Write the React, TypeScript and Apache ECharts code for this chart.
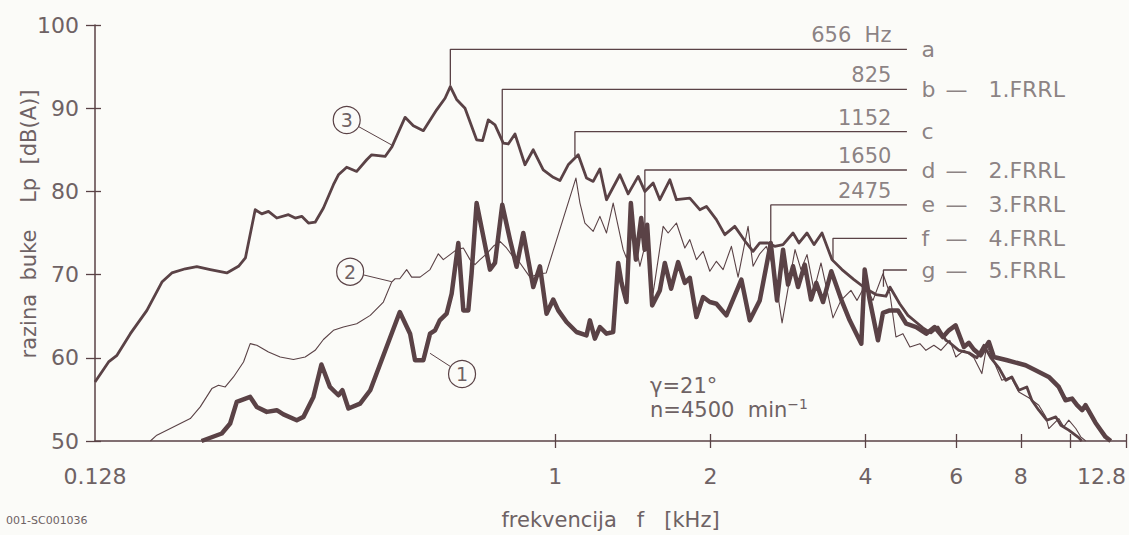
import React, { useEffect, useRef } from "react";
import * as echarts from "echarts";

// ---- data: [frequency kHz, level dB(A)] ----
const curve1: [number, number][] = [
  [0.206, 50.0], [0.2255, 50.9], [0.2341, 52.1], [0.2411, 54.7], [0.256, 55.3], [0.2637, 54.1],
  [0.2757, 53.5], [0.2883, 53.7], [0.297, 53.2], [0.3152, 52.5], [0.3248, 52.9], [0.3396, 55.3],
  [0.3519, 59.2], [0.3655, 56.5], [0.3797, 55.5], [0.3865, 56.1], [0.397, 53.9], [0.4183, 54.5],
  [0.4377, 56.1], [0.4994, 65.5], [0.5229, 62.9], [0.5347, 59.7], [0.5548, 59.7], [0.5717, 62.9],
  [0.5846, 63.3], [0.597, 64.5], [0.6156, 65.3], [0.6296, 67.7], [0.6486, 73.8], [0.6633, 65.7],
  [0.6782, 65.7], [0.6883, 70.2], [0.7038, 78.6], [0.7252, 74.6], [0.7471, 70.6], [0.7641, 71.4],
  [0.7893, 78.4], [0.817, 74.2], [0.8414, 70.95], [0.8669, 75.0], [0.9065, 68.5], [0.934, 71.0],
  [0.9619, 65.3], [0.9911, 67.0], [1.0135, 65.7], [1.0517, 64.3], [1.0997, 63.1], [1.1499, 62.7],
  [1.1675, 64.5], [1.1938, 62.3], [1.2207, 63.7], [1.2573, 62.9], [1.2954, 63.1], [1.3246, 71.4],
  [1.3445, 69.0], [1.3747, 66.7], [1.4018, 78.6], [1.4336, 71.8], [1.4681, 76.8], [1.491, 73.0],
  [1.5077, 76.0], [1.5418, 66.3], [1.5956, 68.1], [1.6316, 71.4], [1.678, 68.3], [1.7313, 71.5],
  [1.784, 69.0], [1.8242, 69.6], [1.8788, 64.9], [1.9358, 67.3], [1.9947, 66.7], [2.0541, 66.5],
  [2.1479, 65.1], [2.2968, 69.4], [2.3841, 64.5], [2.4932, 66.9], [2.6188, 73.8], [2.6933, 66.9],
  [2.7663, 73.0], [2.8289, 68.8], [2.8926, 71.0], [2.9579, 68.5], [3.0477, 71.2], [3.1349, 67.0],
  [3.2096, 69.0], [3.3071, 66.7], [3.4317, 70.4], [3.588, 67.0], [3.7254, 64.5], [3.9244, 61.7],
  [3.9835, 70.6], [4.0728, 67.0], [4.2272, 62.1], [4.3224, 65.4], [4.4549, 65.7], [4.6218, 65.7],
  [4.7962, 64.1], [5.0152, 63.7], [5.2441, 62.9], [5.4442, 63.7], [5.6495, 62.5], [5.8026, 63.3],
  [5.9791, 63.9], [6.2047, 61.3], [6.3444, 61.8], [6.4879, 61.0], [6.6848, 60.3], [6.9369, 61.9],
  [7.0936, 60.1], [7.5276, 59.7], [8.1718, 59.1], [8.5446, 58.5], [9.0671, 57.7], [9.4804, 56.5],
  [9.7688, 54.9], [10.0601, 55.1], [10.2878, 54.3], [10.5228, 53.7], [10.6808, 54.3], [11.1683, 52.2],
  [11.678, 50.5], [11.9583, 50.0],
];

const curve2: [number, number][] = [
  [0.1639, 50.0], [0.1687, 50.7], [0.1792, 51.5], [0.1959, 52.7], [0.2048, 54.1], [0.2157, 56.3],
  [0.2222, 56.7], [0.229, 56.5], [0.2376, 57.7], [0.2485, 59.5], [0.256, 61.7], [0.2637, 61.5],
  [0.2778, 60.7], [0.2927, 60.1], [0.3106, 59.8], [0.3273, 60.1], [0.3422, 60.9], [0.3551, 62.2],
  [0.3713, 63.3], [0.3882, 63.7], [0.412, 64.1], [0.4377, 65.1], [0.4641, 66.7], [0.4816, 69.1],
  [0.489, 69.5], [0.4994, 69.5], [0.515, 70.6], [0.5266, 69.7], [0.5467, 69.7], [0.5717, 70.6],
  [0.5932, 72.5], [0.6066, 71.8], [0.6251, 72.4], [0.6437, 73.0], [0.6633, 73.2], [0.6834, 71.8],
  [0.6988, 71.2], [0.7146, 71.8], [0.736, 72.5], [0.7583, 73.4], [0.7813, 74.0], [0.8047, 73.2],
  [0.8291, 72.1], [0.8543, 71.4], [0.8932, 69.7], [0.934, 70.1], [0.9606, 70.2], [1.0968, 81.6],
  [1.1168, 78.6], [1.1417, 76.2], [1.1848, 75.2], [1.2207, 77.0], [1.2573, 75.0], [1.2954, 78.6],
  [1.3545, 73.0], [1.3747, 72.0], [1.4164, 75.4], [1.4594, 71.0], [1.503, 74.2], [1.5486, 67.8],
  [1.6193, 75.8], [1.6558, 75.0], [1.7183, 76.2], [1.784, 73.2], [1.8242, 74.2], [1.8788, 71.8],
  [1.9358, 72.8], [1.9947, 70.4], [2.0541, 71.6], [2.1166, 70.6], [2.1966, 73.4], [2.263, 69.7],
  [2.3663, 75.8], [2.4197, 71.0], [2.4932, 72.5], [2.5677, 73.4], [2.6574, 70.6], [2.7545, 64.2],
  [2.8413, 69.0], [2.9186, 73.0], [2.9973, 70.6], [3.0791, 72.4], [3.1769, 68.1], [3.2773, 71.4],
  [3.3666, 68.1], [3.4578, 64.8], [3.5833, 66.9], [3.7469, 68.1], [3.8489, 66.9], [3.9888, 68.7],
  [4.1336, 66.9], [4.3224, 70.1], [4.4594, 67.7], [4.5806, 62.5], [4.7258, 62.9], [4.8758, 61.3],
  [5.0981, 61.7], [5.2369, 60.9], [5.4272, 61.5], [5.5996, 60.9], [5.8284, 62.1], [5.9871, 60.1],
  [6.2047, 60.9], [6.4879, 60.0], [6.7232, 58.1], [6.8753, 61.5], [7.351, 57.3], [7.6528, 57.7],
  [7.9307, 55.9], [8.2917, 55.2], [8.6708, 54.3], [8.9465, 52.9], [9.0671, 51.5], [9.4804, 52.7],
  [9.695, 51.7], [9.913, 52.5], [10.2282, 51.5], [10.4577, 50.5], [10.695, 50.0],
];

const curve3: [number, number][] = [
  [0.128, 57.1], [0.136, 59.5], [0.1412, 60.3], [0.1499, 62.9], [0.1614, 65.7], [0.1726, 69.1],
  [0.1804, 70.2], [0.1916, 70.7], [0.2017, 70.95], [0.2142, 70.6], [0.2306, 70.2], [0.243, 71.0],
  [0.2506, 72.0], [0.2618, 77.8], [0.2696, 77.3], [0.2778, 77.6], [0.2883, 76.8], [0.3037, 77.2],
  [0.313, 76.8], [0.3223, 77.0], [0.3321, 76.2], [0.3422, 76.3], [0.3551, 78.0], [0.3713, 80.8],
  [0.3797, 82.0], [0.394, 82.9], [0.412, 82.4], [0.4308, 83.8], [0.4405, 84.4], [0.4677, 84.2],
  [0.4816, 85.3], [0.5113, 88.9], [0.5306, 87.9], [0.5548, 87.3], [0.5888, 89.8], [0.6113, 91.2],
  [0.6259, 92.6], [0.6437, 91.05], [0.6683, 90.0], [0.7038, 86.2], [0.7229, 86.1], [0.7415, 88.6],
  [0.7641, 88.0], [0.7929, 85.8], [0.8108, 85.7], [0.8354, 86.9], [0.8735, 83.2], [0.9065, 85.0],
  [0.9478, 82.6], [0.9911, 81.7], [1.0212, 81.3], [1.0597, 83.2], [1.1081, 84.4], [1.1499, 81.6],
  [1.1848, 81.2], [1.2207, 82.7], [1.2573, 79.0], [1.3347, 82.0], [1.3851, 79.7], [1.4484, 81.8],
  [1.4923, 80.0], [1.5486, 81.0], [1.5956, 79.0], [1.6684, 81.4], [1.7183, 79.0], [1.8242, 79.2],
  [1.9074, 77.8], [1.9645, 78.2], [2.0541, 76.6], [2.1326, 74.8], [2.23, 75.8], [2.3484, 73.8],
  [2.4197, 72.8], [2.4932, 73.8], [2.5871, 73.8], [2.6658, 73.4], [2.7663, 73.6], [2.8926, 75.0],
  [2.971, 73.8], [3.0791, 75.0], [3.1769, 73.6], [3.2921, 75.0], [3.4422, 71.8], [3.5993, 70.6],
  [3.7977, 69.4], [4.0066, 68.3], [4.1895, 67.6], [4.3807, 67.4], [4.4594, 68.5], [4.6579, 66.5],
  [4.8325, 65.1], [5.0083, 64.3], [5.1672, 63.6], [5.3551, 63.0], [5.5248, 63.7], [5.7258, 62.1],
  [5.8026, 61.9], [6.0675, 60.9], [6.3444, 60.6], [6.5753, 60.0], [6.784, 61.5], [6.999, 60.0],
  [7.2533, 58.8], [7.4839, 57.3], [7.6864, 57.7], [7.9307, 56.1], [8.219, 56.5], [8.4046, 54.9],
  [8.6708, 53.7], [8.9865, 52.5], [9.3548, 52.9], [9.567, 51.9], [9.913, 51.3], [10.3652, 50.4],
  [10.5049, 50.0],
];

// axis ticks
const xTickValues = [1, 2, 4, 6, 8, 10, 12.8];
const xLabelValues = [0.128, 1, 2, 4, 6, 8, 12.8];
const yMin = 50;
const yMax = 100;
const yStep = 10;

// annotation leaders a..g
const markerLetters = ["a", "b", "c", "d", "e", "f", "g"];
const markerHz = ["656  Hz", "825", "1152", "1650", "2475", "", ""];
const markerFrrl = ["", "1.FRRL", "", "2.FRRL", "3.FRRL", "4.FRRL", "5.FRRL"];
const markerFreqs = [0.6259, 0.7893, 1.0919, 1.4923, 2.6188, 3.4578, 4.332];
const markerBase = [92.8, 78.4, 84.2, 73.0, 73.35, 71.55, 68.55];
const markerTop = [97.08, 92.27, 87.18, 82.57, 78.37, 74.36, 70.55];
const markerEndFreq = 4.811;

// circled curve numbers
const circleNames = ["1", "2", "3"];
const circleFreqs = [0.6595, 0.4001, 0.394];
const circleDb = [58.05, 70.35, 88.58];
const circleTargetFreqs = [0.5717, 0.4816, 0.4816];
const circleTargetDb = [60.54, 69.15, 85.58];

const LINE = "#5a4246";
const TEXT = "#6e6264";
const BG = "#fbfbf8";
const FONT = "'DejaVu Sans', sans-serif";

export default function App() {
  const ref = useRef<HTMLDivElement>(null);

  useEffect(() => {
    if (!ref.current) return;
    const chart = echarts.init(ref.current, undefined, { renderer: "svg" });

    const fmt = (v: number) => String(Number(Number(v).toPrecision(3)));

    const xAxisBase = {
      type: "log" as const,
      logBase: 10,
      min: 0.128,
      max: 12.8,
      gridIndex: 0,
      position: "bottom" as const,
      splitLine: { show: false },
      minorTick: { show: false },
      minorSplitLine: { show: false },
    };

    const leaderSeries = markerFreqs.map((f, i) => ({
      type: "line" as const,
      name: "leader-" + markerLetters[i],
      data: [
        [f, markerBase[i]],
        [f, markerTop[i]],
        [markerEndFreq, markerTop[i]],
      ],
      showSymbol: false,
      symbol: "none",
      silent: true,
      lineStyle: { color: LINE, width: 1.3 },
      z: 3,
    }));

    const circleLeaderSeries = circleNames.map((n, i) => ({
      type: "line" as const,
      name: "circle-leader-" + n,
      data: [
        [circleFreqs[i], circleDb[i]],
        [circleTargetFreqs[i], circleTargetDb[i]],
      ],
      showSymbol: false,
      symbol: "none",
      silent: true,
      lineStyle: { color: LINE, width: 1 },
      z: 3,
    }));

    chart.setOption({
      animation: false,
      backgroundColor: BG,
      textStyle: { fontFamily: FONT },
      grid: { left: 95, top: 25, width: 1032, height: 416, containLabel: false },
      xAxis: [
        {
          ...xAxisBase,
          axisLine: { show: true, lineStyle: { color: LINE, width: 1.5 } },
          axisTick: {
            show: true,
            customValues: xTickValues,
            length: 7,
            lineStyle: { color: LINE, width: 1.3 },
          },
          axisLabel: {
            show: true,
            customValues: xLabelValues,
            formatter: (v: number) => fmt(v),
            color: TEXT,
            fontSize: 22,
            fontFamily: FONT,
            margin: 24,
            alignMaxLabel: "right",
          },
          name: "frekvencija   f   [kHz]",
          nameLocation: "middle",
          nameGap: 68,
          nameTextStyle: { color: TEXT, fontSize: 21, fontFamily: FONT },
        },
        {
          ...xAxisBase,
          axisLine: { show: false },
          axisTick: {
            show: true,
            inside: true,
            customValues: xTickValues,
            length: 7,
            lineStyle: { color: LINE, width: 1.3 },
          },
          axisLabel: { show: false },
        },
      ],
      yAxis: [
        {
          type: "value",
          min: yMin,
          max: yMax,
          interval: yStep,
          position: "left",
          splitLine: { show: false },
          axisLine: { show: true, lineStyle: { color: LINE, width: 1.5 } },
          axisTick: { show: true, length: 9, lineStyle: { color: LINE, width: 1.3 } },
          axisLabel: { color: TEXT, fontSize: 22, fontFamily: FONT, margin: 16 },
        },
        {
          type: "value",
          min: yMin,
          max: yMax,
          interval: yStep,
          position: "left",
          offset: 0,
          splitLine: { show: false },
          axisLine: { show: false },
          axisTick: { show: true, inside: true, length: 6, lineStyle: { color: LINE, width: 1.3 } },
          axisLabel: { show: false },
        },
      ],
      graphic: [
        {
          type: "text",
          x: 29,
          y: 224,
          rotation: Math.PI / 2,
          style: {
            text: "razina  buke    Lp  [dB(A)]",
            fill: TEXT,
            font: "21px " + FONT,
            textAlign: "center",
            textVerticalAlign: "middle",
          },
        },
        {
          type: "text",
          left: 650,
          top: 375,
          style: { text: "γ=21°", fill: TEXT, font: "21px " + FONT },
        },
        {
          type: "text",
          left: 650,
          top: 397,
          style: {
            text: "n=4500  min{s|−1}",
            fill: TEXT,
            font: "21px " + FONT,
            rich: { s: { fontSize: 14, fill: TEXT, fontFamily: FONT, verticalAlign: "top", padding: [0, 0, 12, 0] } },
          } as any,
        },
        {
          type: "text",
          left: 6,
          top: 515,
          style: { text: "001-SC001036", fill: TEXT, font: "11px " + FONT },
        },
      ],
      series: [
        ...leaderSeries,
        ...circleLeaderSeries,
        {
          type: "line",
          name: "3",
          data: curve3,
          showSymbol: false,
          symbol: "none",
          lineStyle: { color: LINE, width: 2.8, join: "round" },
          z: 4,
        },
        {
          type: "line",
          name: "2",
          data: curve2,
          showSymbol: false,
          symbol: "none",
          lineStyle: { color: LINE, width: 1.1, join: "round" },
          z: 4,
        },
        {
          type: "line",
          name: "1",
          data: curve1,
          showSymbol: false,
          symbol: "none",
          lineStyle: { color: LINE, width: 4.5, join: "round" },
          z: 4,
        },
        {
          type: "scatter",
          name: "circles",
          data: circleNames.map((n, i) => ({ value: [circleFreqs[i], circleDb[i]], name: n })),
          symbol: "circle",
          symbolSize: 27,
          silent: true,
          itemStyle: { color: BG, borderColor: LINE, borderWidth: 1.2, opacity: 1 },
          label: {
            show: true,
            position: "inside",
            formatter: (p: any) => p.name,
            color: TEXT,
            fontSize: 19,
            fontFamily: FONT,
          },
          z: 5,
        },
        {
          type: "scatter",
          name: "letters",
          data: markerLetters.map((l, i) => ({
            value: [markerEndFreq, markerTop[i]],
            name: markerFrrl[i] ? `{l|${l}}{d|—}{f|${markerFrrl[i]}}` : `{l|${l}}`,
          })),
          symbolSize: 1,
          silent: true,
          itemStyle: { color: "rgba(0,0,0,0)" },
          label: {
            show: true,
            position: "right",
            distance: 14,
            formatter: (p: any) => p.name,
            color: TEXT,
            fontSize: 22,
            fontFamily: FONT,
            rich: {
              l: { width: 24, fontSize: 22, color: TEXT, fontFamily: FONT },
              d: { width: 43, fontSize: 22, color: TEXT, fontFamily: FONT },
              f: { fontSize: 22, color: TEXT, fontFamily: FONT },
            },
          },
          z: 5,
        },
        {
          type: "scatter",
          name: "hz",
          data: markerHz
            .map((h, i) => ({ value: [markerEndFreq, markerTop[i]], name: h }))
            .filter((d) => d.name !== ""),
          symbolSize: 1,
          silent: true,
          itemStyle: { color: "rgba(0,0,0,0)" },
          label: {
            show: true,
            position: "left",
            distance: 15,
            offset: [0, -14],
            formatter: (p: any) => p.name,
            color: TEXT,
            fontSize: 21,
            fontFamily: FONT,
          },
          z: 5,
        },
      ],
    });

    return () => chart.dispose();
  }, []);

  return (
    <div
      ref={ref}
      style={{ position: "fixed", left: 0, top: 0, width: 1129, height: 535, background: BG }}
    />
  );
}
